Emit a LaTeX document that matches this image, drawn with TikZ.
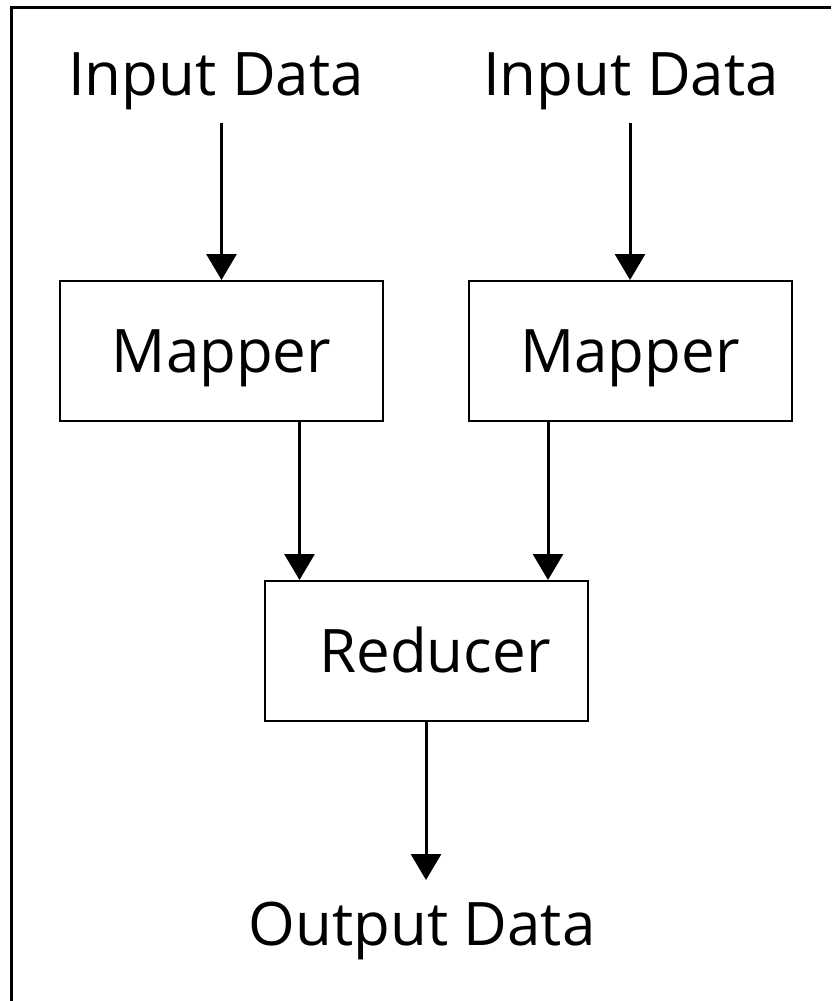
\documentclass[tikz,border=0pt]{standalone}
\usepackage{fontspec}
\setmainfont{Open Sans}
\usetikzlibrary{arrows.meta,calc,positioning}

\begin{document}
\begin{tikzpicture}[x=0.5pt,y=-0.5pt,>={Triangle[width=15pt,length=13pt]},line width=1.5pt,
  box/.style={draw,line width=1pt,minimum width=161.5pt,minimum height=70pt,inner sep=0pt,
    text height=21pt,text depth=0pt,font=\fontsize{30}{34}\selectfont},
  lbl/.style={inner sep=0pt,anchor=base,font=\fontsize{30}{34}\selectfont}]
\useasboundingbox (0,0) rectangle (831,1001);
% frame (only top and left edges show)
\draw[line width=1.5pt] (831,7)--(11,7)--(11,1001);
% input labels
\node[lbl] (in1) at (216,95){Input Data};
\node[lbl] (in2) at (631,95){Input Data};
% mappers and reducer
\node[box] (m1) at (221.5,351){Mapper};
\node[box] (m2) at (630,351){Mapper};
\node[box] (red) at (426,651){\hspace*{9pt}Reducer};
\node[lbl] (out) at (422,945){Output Data};
% arrows
\draw[->] ([yshift=-6pt]in1.south -| m1.north) -- (m1.north);
\draw[->] ([yshift=-6pt]in2.south -| m2.north) -- (m2.north);
\draw[->] ([xshift=39pt]m1.south) -- ([xshift=39pt]m1.south |- red.north);
\draw[->] ([xshift=-41pt]m2.south) -- ([xshift=-41pt]m2.south |- red.north);
\draw[->] (red.south) -- ([yshift=10pt]red.south |- out.north);
\end{tikzpicture}
\end{document}
